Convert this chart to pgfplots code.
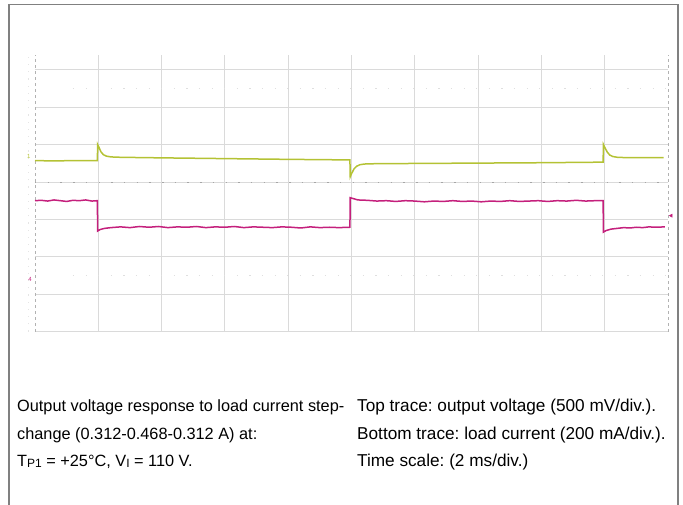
\documentclass[border=0pt]{standalone}
\usepackage{fontspec}
\setmainfont{Liberation Sans}
\usepackage{pgfplots}
\pgfplotsset{compat=1.18}
\definecolor{ytrace}{HTML}{B4C234}
\definecolor{mtrace}{HTML}{C4207C}
\definecolor{gridc}{HTML}{DADADA}
\definecolor{framec}{HTML}{808080}
\newcommand{\sub}[1]{\raisebox{-1.2pt}{\fontsize{12}{12}\selectfont #1}}
\frenchspacing
\begin{document}
\begin{tikzpicture}[x=1pt,y=1pt]
\useasboundingbox (0,0) rectangle (683,-504);
\draw[framec, line width=1.3pt] (9,-515) -- (9,-4.5) -- (678,-4.5) -- (678,-515);
\begin{axis}[
  at={(35pt,-331.6pt)}, anchor=south west,
  scale only axis, width=633pt, height=276.8pt,
  xmin=0, xmax=10, ymin=-4, ymax=3.4,
  xtick={1,2,3,4,5,6,7,8,9}, ytick={-4,-3,-2,-1,1,2,3},
  xticklabels={}, yticklabels={},
  grid=major, major grid style={gridc, line width=0.9pt},
  tick style={draw=none}, axis line style={draw=none},
  clip=false,
]
% graticule details
\draw[gridc, line width=0.9pt] (axis cs:0,0) -- (axis cs:10,0);
\draw[gray!70, line width=0.9pt, dash pattern=on 1.5pt off 11.2pt] (axis cs:0,0) -- (axis cs:10,0);
\draw[gray!60, line width=0.9pt, dash pattern=on 3pt off 3pt] (axis cs:0,-4) -- (axis cs:0,3.4);
\draw[gray!60, line width=0.9pt, dash pattern=on 3pt off 3pt] (axis cs:10,-4) -- (axis cs:10,3.4);
\draw[gray!25, line width=1pt, dash pattern=on 1.2pt off 11.4pt] (axis cs:0.6,2.5) -- (axis cs:10,2.5);
\draw[gray!25, line width=1pt, dash pattern=on 1.2pt off 11.4pt] (axis cs:0.6,-2.5) -- (axis cs:10,-2.5);
\draw[gray!20, line width=0.8pt, dash pattern=on 1.2pt off 6pt] (axis cs:-0.11,-4) -- (axis cs:-0.11,3.4);
% top trace: output voltage
\addplot[ytrace, line width=1.5pt, mark=none] coordinates {
(0,0.57) (0.3,0.565) (0.6,0.57) (0.985,0.57)
(0.99,1.0) (1.01,0.93) (1.04,0.81) (1.08,0.73) (1.13,0.69) (1.2,0.67) (1.35,0.66)
(2,0.645) (3,0.625) (4,0.605) (4.975,0.59)
(4.98,0.14) (5.0,0.22) (5.04,0.35) (5.08,0.42) (5.13,0.46) (5.2,0.48) (5.4,0.49)
(6,0.495) (7,0.505) (8,0.515) (8.975,0.53)
(8.98,1.0) (9.0,0.93) (9.04,0.8) (9.08,0.72) (9.13,0.68) (9.2,0.66) (9.35,0.65)
(9.93,0.65)
};
% bottom trace: load current
\addplot[mtrace, line width=1.5pt, mark=none] coordinates {
(0,-0.50) (0.1,-0.49) (0.2,-0.51) (0.3,-0.48) (0.4,-0.50) (0.5,-0.52) (0.6,-0.49) (0.7,-0.50) (0.8,-0.48) (0.9,-0.51) (0.985,-0.50)
(0.99,-1.31) (1.03,-1.27) (1.1,-1.24) (1.2,-1.22) (1.35,-1.20) (1.5,-1.22) (1.65,-1.19) (1.8,-1.21) (1.95,-1.19) (2.1,-1.22) (2.25,-1.20) (2.4,-1.21) (2.55,-1.19) (2.7,-1.22) (2.85,-1.20) (3.0,-1.21) (3.15,-1.19) (3.3,-1.22) (3.45,-1.20) (3.6,-1.21) (3.75,-1.22) (3.9,-1.20) (4.05,-1.21) (4.2,-1.23) (4.35,-1.20) (4.5,-1.22) (4.65,-1.21) (4.8,-1.22) (4.975,-1.21)
(4.98,-0.42) (5.02,-0.44) (5.1,-0.48) (5.25,-0.49) (5.4,-0.51) (5.55,-0.50) (5.7,-0.52) (5.85,-0.50) (6.0,-0.51) (6.15,-0.53) (6.3,-0.51) (6.45,-0.52) (6.6,-0.50) (6.75,-0.52) (6.9,-0.51) (7.05,-0.53) (7.2,-0.51) (7.35,-0.52) (7.5,-0.50) (7.65,-0.52) (7.8,-0.51) (7.95,-0.50) (8.1,-0.52) (8.25,-0.50) (8.4,-0.51) (8.55,-0.49) (8.7,-0.51) (8.85,-0.50) (8.975,-0.50)
(8.98,-1.34) (9.02,-1.30) (9.1,-1.26) (9.2,-1.24) (9.3,-1.22) (9.4,-1.23) (9.5,-1.21) (9.6,-1.22) (9.7,-1.20) (9.8,-1.21) (9.95,-1.20)
};
% trigger marker
\addplot[mtrace, only marks, mark=triangle*, mark options={rotate=90, scale=0.9}] coordinates {(10.05,-0.9)};
% channel markers
\node[ytrace, font=\fontsize{6}{6}\selectfont] at (axis cs:-0.1,0.67) {1};
\node[mtrace, font=\fontsize{6}{6}\selectfont] at (axis cs:-0.08,-2.6) {4};
\end{axis}
\begin{scope}[font=\fontsize{16.3}{19}\selectfont]
\node[anchor=base west, inner sep=0] at (17,-411) {Output voltage response to load current step-};
\node[anchor=base west, inner sep=0] at (17,-439) {change (0.312-0.468-0.312 A) at:};
\node[anchor=base west, inner sep=0] at (17,-466) {T\sub{P1} = +25°C, V\sub{I} = 110 V.};
\end{scope}
\begin{scope}[font=\fontsize{17.2}{19}\selectfont]
\node[anchor=base west, inner sep=0] at (357,-411) {Top trace: output voltage (500 mV/div.).};
\node[anchor=base west, inner sep=0] at (357,-439) {Bottom trace: load current (200 mA/div.).};
\node[anchor=base west, inner sep=0] at (357,-466) {Time scale: (2 ms/div.)};
\end{scope}
\end{tikzpicture}
\end{document}
